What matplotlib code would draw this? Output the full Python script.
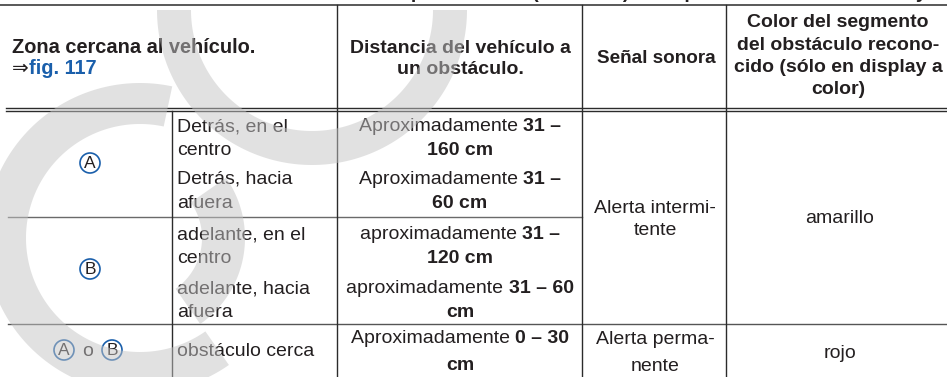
import numpy as np
import matplotlib.pyplot as plt
from matplotlib.patches import Circle, Polygon

FONT = ['Liberation Sans', 'DejaVu Sans']
FS = 14
INK = '#231f20'
BLUE = '#1a5fab'
RULE = '#2b2b2b'

# caption line above the table (only its lowest pixels are inside the picture)
caption_parts = ["Tabla de señales del asistente de aparcamiento (ParkPilot) de la pantalla",
                 "del vehículo y"]

# table content
head_zone = "Zona cercana al vehículo."
head_link = "fig. 117"
head_dist = ["Distancia del vehículo a", "un obstáculo."]
head_signal = ["Señal sonora"]
head_color = ["Color del segmento", "del obstáculo recono-", "cido (sólo en display a", "color)"]

zone_letters = ["A", "B"]
where_lines = [["Detrás, en el", "centro"], ["Detrás, hacia", "afuera"],
               ["adelante, en el", "centro"], ["adelante, hacia", "afuera"],
               ["obstáculo cerca"]]
# distance text: (normal part, bold part) per line
dist_lines = [[("Aproximadamente ", "31 –"), ("", "160 cm")],
              [("Aproximadamente ", "31 –"), ("", "60 cm")],
              [("aproximadamente ", "31 –"), ("", "120 cm")],
              [("aproximadamente ", "31 – 60"), ("", "cm")],
              [("Aproximadamente ", "0 – 30"), ("", "cm")]]
signal_lines = [["Alerta intermi-", "tente"], ["Alerta perma-", "nente"]]
colour_names = ["amarillo", "rojo"]

fig = plt.figure(figsize=(9.47, 3.77), dpi=100)
ax = fig.add_axes([0, 0, 1, 1])
ax.set_xlim(0, 947)
ax.set_ylim(377, 0)
ax.axis('off')
rend = fig.canvas.get_renderer()


def width(s, bold, fs=FS):
    t = ax.text(0, 0, s, fontsize=fs, family=FONT, fontweight='bold' if bold else 'normal')
    w = t.get_window_extent(rend).width
    t.remove()
    return w


def put(x, y, parts, ha='left', fs=FS):
    # parts: list of (text, bold, colour); y is the visual line centre
    ts = []
    for s, bold, col in parts:
        if s == "":
            continue
        t = ax.text(0, y + 6, s, fontsize=fs, family=FONT,
                    fontweight='bold' if bold else 'normal', color=col,
                    ha='left', va='baseline', zorder=3)
        ts.append(t)
    ws = [t.get_window_extent(rend).width for t in ts]
    total = sum(ws)
    x0 = x - total / 2 if ha == 'center' else x
    for t, w in zip(ts, ws):
        t.set_x(x0)
        x0 += w


def circled(x, y, letter):
    ax.add_patch(Circle((x, y), 10, fc='white', ec=BLUE, lw=1.2, zorder=3))
    ax.text(x, y + 0.5, letter, fontsize=12.5, family=FONT, color=INK,
            ha='center', va='center', zorder=4)


# caption, cut off by the top edge
cap_a = caption_parts[0]
x_a = 411 - width(cap_a[:cap_a.index("aparc") + 1], True)
ax.text(x_a, -1.5, cap_a, fontsize=FS, family=FONT, fontweight='bold', color=INK,
        ha='left', va='baseline', zorder=3)
cap_b = caption_parts[1]
x_b = 916 - width(cap_b[:-1], True)
ax.text(x_b, -1.5, cap_b, fontsize=FS, family=FONT, fontweight='bold', color=INK,
        ha='left', va='baseline', zorder=3)

# rules
ax.plot([0, 947], [5, 5], color=RULE, lw=1.1)
ax.plot([6, 947], [107.5, 107.5], color=RULE, lw=1.0)
ax.plot([6, 947], [110.8, 110.8], color=RULE, lw=1.0)
ax.plot([8, 582], [217, 217], color='#6a6a6a', lw=1.0)
ax.plot([8, 947], [324, 324], color='#555555', lw=1.0)
for xv, y0 in [(172, 110.8), (337, 5), (582, 5), (726, 5)]:
    ax.plot([xv, xv], [y0, 377], color=RULE, lw=1.0)

# header
put(12, 47, [(head_zone, True, INK)], fs=14.4)
put(12, 68, [("⇒", False, INK), (head_link, True, BLUE)], fs=14.4)
for i, s in enumerate(head_dist):
    put(460, 47 + 21.5 * i, [(s, True, INK)], ha='center')
put(656, 57, [(head_signal[0], True, INK)], ha='center', fs=13.6)
for i, s in enumerate(head_color):
    put(838, 21 + 22.5 * i, [(s, True, INK)], ha='center')

# body
block_y = [125, 178, 233, 287]
for k, ys in enumerate(block_y):
    for j, s in enumerate(where_lines[k]):
        put(177, ys + 24 * j, [(s, False, INK)])
    for j, (a, b) in enumerate(dist_lines[k]):
        put(460, ys + 24 * j, [(a, False, INK), (b, True, INK)], ha='center')
put(177, 350, [(where_lines[4][0], False, INK)])
for j, (a, b) in enumerate(dist_lines[4]):
    put(460, 337 + 27 * j, [(a, False, INK), (b, True, INK)], ha='center')

circled(90, 163, zone_letters[0])
circled(90, 269, zone_letters[1])
circled(64, 350, zone_letters[0])
put(88, 350, [("o", False, INK)], ha='center')
circled(112, 350, zone_letters[1])

for j, s in enumerate(signal_lines[0]):
    put(655, 207 + 22 * j, [(s, False, INK)], ha='center')
for j, s in enumerate(signal_lines[1]):
    put(655, 338 + 27 * j, [(s, False, INK)], ha='center')
put(840, 217, [(colour_names[0], False, INK)], ha='center')
put(840, 352, [(colour_names[1], False, INK)], ha='center')


# watermark (semi transparent grey arcs on top)
def arc_band(cx, cy, ro, ri, t1, t2):
    t = np.radians(np.linspace(t1, t2, 240))
    outer = np.c_[cx + ro * np.cos(t), cy - ro * np.sin(t)]
    inner = np.c_[cx + ri * np.cos(t[::-1]), cy - ri * np.sin(t[::-1])]
    ax.add_patch(Polygon(np.vstack([outer, inner]), closed=True, fc='#c4c4c4',
                         ec='none', alpha=0.5, zorder=10))


arc_band(312, 10, 155, 121, -180, 0)
arc_band(140, 238, 155, 114, 78, 305)
arc_band(140, 238, 105, 62, -55, 35)

fig.savefig('out.png', dpi=100)
